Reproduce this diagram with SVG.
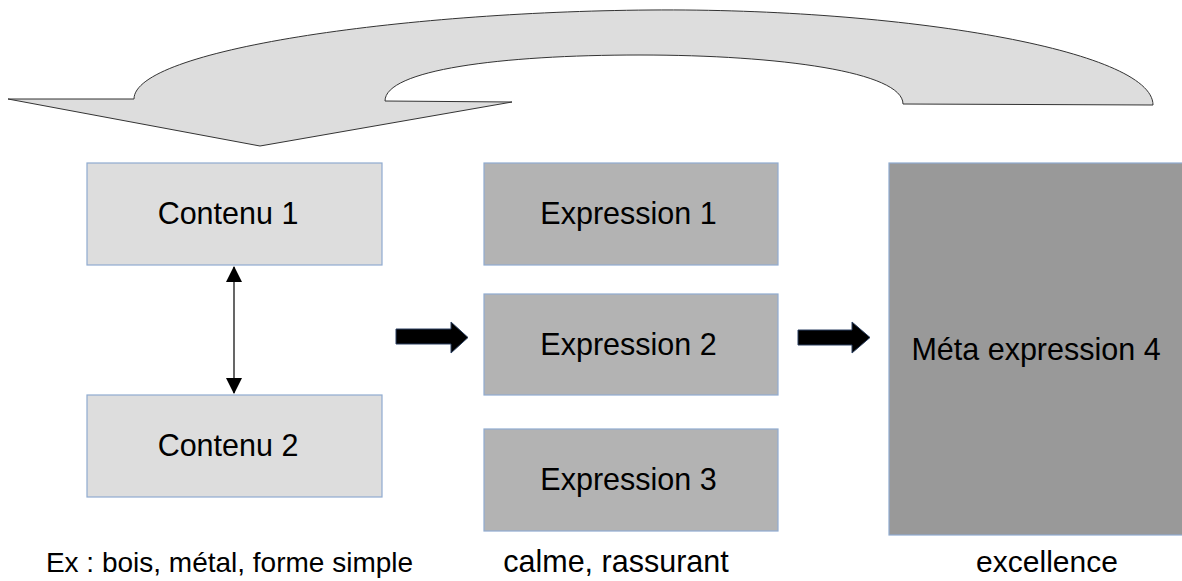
<svg xmlns="http://www.w3.org/2000/svg" width="1182" height="581" viewBox="0 0 1182 581">
<style>
.t{font-family:"Liberation Sans",Arial,sans-serif;font-size:30.5px;fill:#000;text-anchor:middle}
.c{fill:#dddddd;stroke:#8fabd0;stroke-width:1.2}
.e{fill:#b3b3b3;stroke:#8fabd0;stroke-width:1.2}
.m{fill:#999999;stroke:#8fabd0;stroke-width:1.2}
.blk{fill:#000;stroke:#2a3f60;stroke-width:1}
</style>
<defs>
<marker id="ah" markerWidth="16" markerHeight="20" refX="15" refY="8" orient="auto-start-reverse" markerUnits="userSpaceOnUse">
<path d="M0,0 L16,8 L0,16 Z" fill="#000"/>
</marker>
</defs>
<rect width="1182" height="581" fill="#fff"/>
<g id="curved-arrow">
<path d="M8,99 L134,99 C134,50 400,12 650,10 C900,8 1153,50 1153,105 L903,104 C903,72 780,55 640,55 C500,55 385,70 385,101 L512,102 L260,146 Z" fill="#dddddd" stroke="#333" stroke-width="1"/>
</g>
<g id="contenu1"><rect class="c" x="87" y="163" width="295" height="102"/><text class="t" x="228" y="224">Contenu 1</text></g>
<g id="contenu2"><rect class="c" x="87" y="395" width="295" height="102"/><text class="t" x="228" y="456">Contenu 2</text></g>
<g id="expression1"><rect class="e" x="484" y="163" width="294" height="102"/><text class="t" x="628.5" y="224">Expression 1</text></g>
<g id="expression2"><rect class="e" x="484" y="294" width="294" height="101"/><text class="t" x="628.5" y="355">Expression 2</text></g>
<g id="expression3"><rect class="e" x="484" y="429" width="294" height="102"/><text class="t" x="628.5" y="490">Expression 3</text></g>
<g id="meta4"><rect class="m" x="889" y="163" width="295" height="372"/><text class="t" x="1036" y="360">Méta expression 4</text></g>
<g id="connectors">
<line x1="234" y1="267" x2="234" y2="393" stroke="#000" stroke-width="1.2" marker-start="url(#ah)" marker-end="url(#ah)"/>
<path class="blk" d="M396,329 L451,329 L451,322 L468,337.5 L451,353 L451,344 L396,344 Z"/>
<path class="blk" d="M798,330 L852,330 L852,322 L870,337.5 L852,353 L852,345 L798,345 Z"/>
</g>
<g id="labels">
<text class="t" x="229.5" y="572" style="font-size:28px">Ex : bois, métal, forme simple</text>
<text class="t" x="616" y="572" style="font-size:30.5px">calme, rassurant</text>
<text class="t" x="1047" y="572" style="font-size:30px">excellence</text>
</g>
</svg>
